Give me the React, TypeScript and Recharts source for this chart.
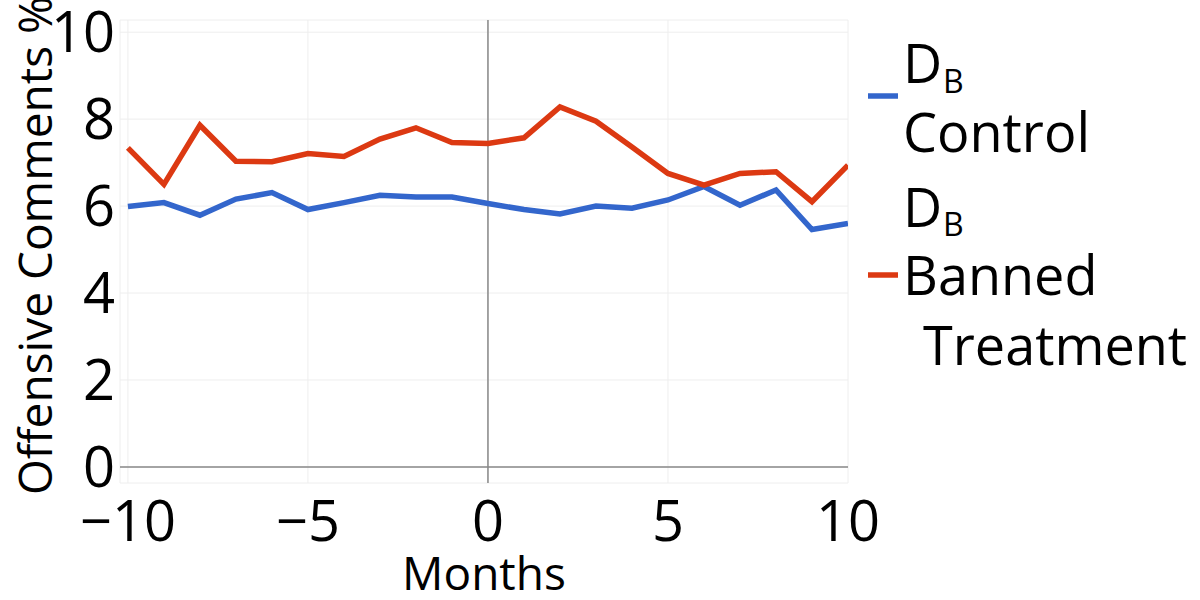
import { CartesianGrid, Legend, Line, LineChart, ReferenceLine, XAxis, YAxis } from 'recharts'

const months = [-10, -9, -8, -7, -6, -5, -4, -3, -2, -1, 0, 1, 2, 3, 4, 5, 6, 7, 8, 9, 10]
const control = [5.99, 6.08, 5.79, 6.16, 6.31, 5.92, 6.08, 6.25, 6.21, 6.21, 6.06, 5.92, 5.82, 6.0, 5.95, 6.14, 6.45, 6.02, 6.37, 5.46, 5.6]
const banned = [7.34, 6.5, 7.86, 7.03, 7.02, 7.21, 7.14, 7.54, 7.8, 7.46, 7.44, 7.57, 8.28, 7.95, 7.36, 6.75, 6.48, 6.75, 6.79, 6.1, 6.94]
const xTicks = [-10, -5, 0, 5, 10]
const yTicks = [0, 2, 4, 6, 8, 10]

const BLUE = '#3366CC'
const RED = '#DC3912'
const FONT = '"Open Sans", sans-serif'

const data = months.map((m, i) => ({ month: m, control: control[i], banned: banned[i] }))

function XTitle({ viewBox }: { viewBox?: { x: number; y: number; width: number; height: number } }) {
  const cx = (viewBox?.x ?? 0) + (viewBox?.width ?? 0) / 2
  return (
    <text x={cx} y={590} textAnchor="middle" fontSize={46} fontFamily={FONT} fill="#000">
      Months
    </text>
  )
}

function YTitle({ viewBox }: { viewBox?: { x: number; y: number; width: number; height: number } }) {
  const cy = (viewBox?.y ?? 0) + (viewBox?.height ?? 0) / 2 - 6
  return (
    <text x={-cy} y={52} transform="rotate(-90)" textAnchor="middle" fontSize={46} fontFamily={FONT} fill="#000">
      Offensive Comments %
    </text>
  )
}

// plotly-style legend: name on several lines, subscript B
function LegendBox() {
  const t = { fontFamily: FONT, fill: '#000' }
  return (
    <svg width={330} height={340} style={{ display: 'block', overflow: 'visible' }}>
      <line x1={8} x2={38} y1={56} y2={56} stroke={BLUE} strokeWidth={5.5} />
      <text x={43} y={43} fontSize={54} {...t}>D</text>
      <text x={83} y={53} fontSize={32} {...t}>B</text>
      <text x={43} y={112} fontSize={54} {...t}>Control</text>

      <line x1={8} x2={38} y1={235} y2={235} stroke={RED} strokeWidth={5.5} />
      <text x={43} y={187} fontSize={54} {...t}>D</text>
      <text x={83} y={196} fontSize={32} {...t}>B</text>
      <text x={43} y={255} fontSize={54} {...t}>Banned</text>
      <text x={63} y={325} fontSize={54} {...t}>Treatment</text>
    </svg>
  )
}

export default function App() {
  return (
    <div style={{ position: 'absolute', left: 0, top: 0, width: 1200, height: 600, background: '#fff' }}>
      <LineChart width={1200} height={600} data={data} margin={{ top: 20, right: 352, left: 10, bottom: 57 }}>
        <CartesianGrid stroke="#eeeeee" strokeWidth={1} />
        <XAxis
          dataKey="month"
          type="number"
          domain={[-10.22, 10]}
          ticks={xTicks}
          allowDataOverflow
          axisLine={false}
          tickLine={false}
          tickSize={0}
          tickMargin={18}
          height={60}
          tick={{ fontSize: 56, fill: '#000', fontFamily: FONT }}
          tickFormatter={(v: number) => (v < 0 ? `\u2212${Math.abs(v)}` : `${v}`)}
          label={<XTitle />}
        />
        <YAxis
          type="number"
          domain={[-0.37, 10.28]}
          ticks={yTicks}
          allowDataOverflow
          axisLine={false}
          tickLine={false}
          tickSize={0}
          tickMargin={5}
          width={110}
          tick={{ fontSize: 56, fill: '#000', fontFamily: FONT }}
          label={<YTitle />}
        />
        <ReferenceLine x={0} stroke="#888" strokeWidth={1.5} />
        <ReferenceLine y={0} stroke="#888" strokeWidth={1.5} />
        <Line dataKey="control" stroke={BLUE} strokeWidth={5.5} dot={false} isAnimationActive={false} />
        <Line dataKey="banned" stroke={RED} strokeWidth={5.5} dot={false} isAnimationActive={false} />
        <Legend
          layout="vertical"
          align="center"
          verticalAlign="middle"
          content={<LegendBox />}
          wrapperStyle={{ left: 860, top: 40, width: 330, height: 340 }}
        />
      </LineChart>
    </div>
  )
}
